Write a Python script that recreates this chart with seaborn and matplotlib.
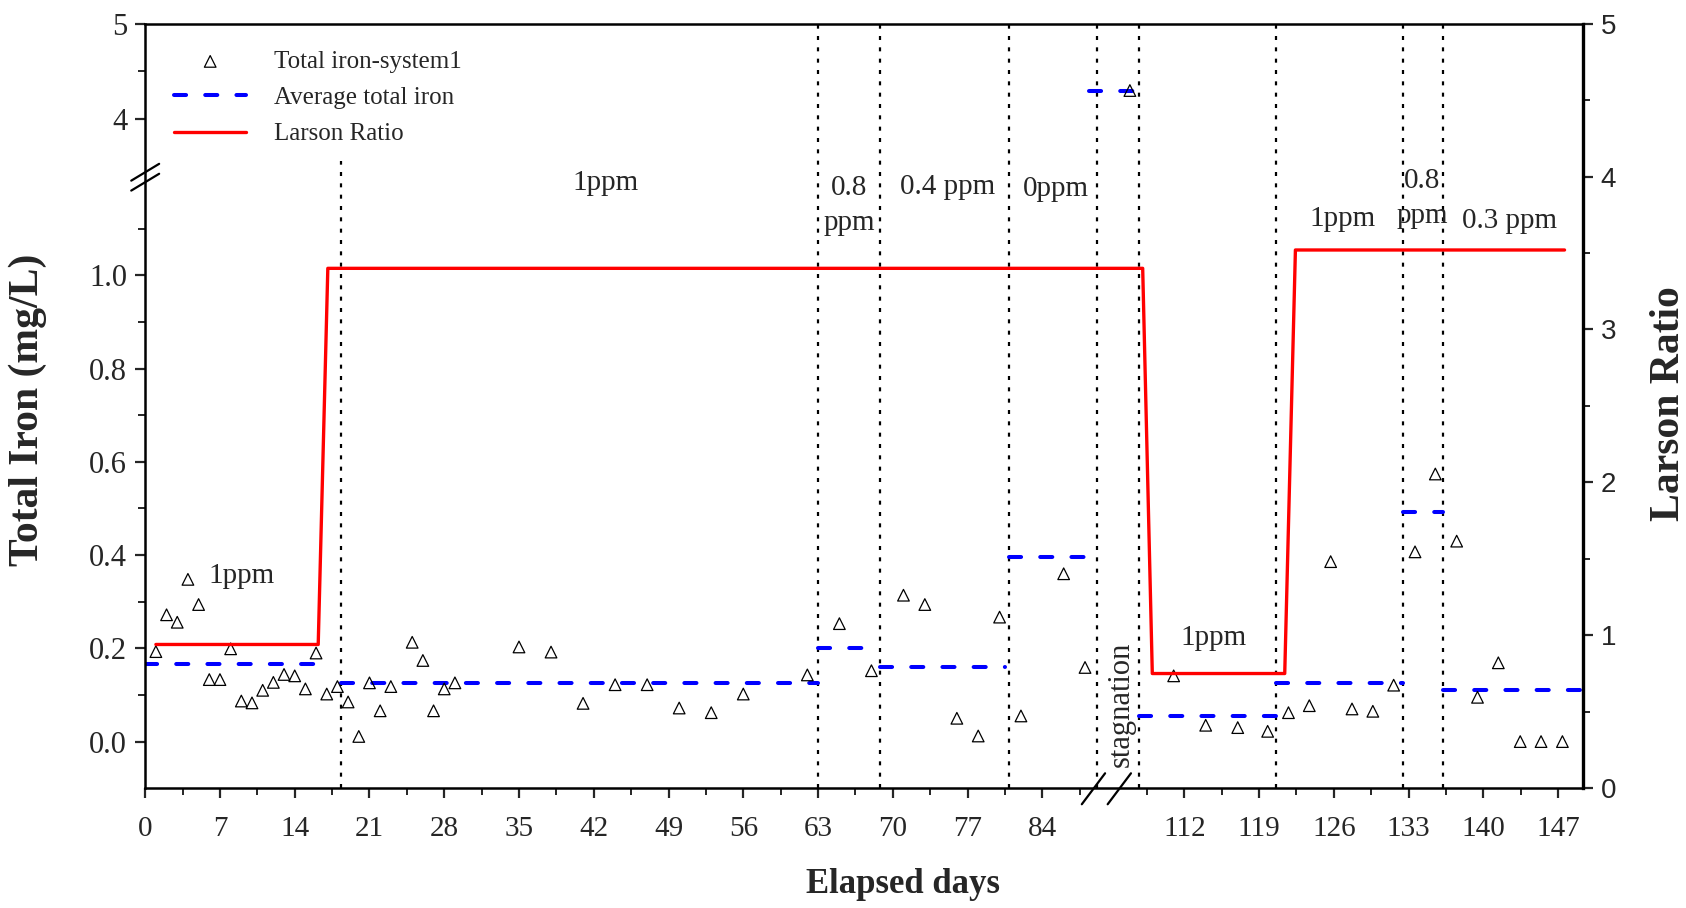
import numpy as np
import pandas as pd
import matplotlib
matplotlib.use("Agg")
import matplotlib.pyplot as plt
from matplotlib.ticker import FixedLocator, FixedFormatter, NullFormatter
import seaborn as sns

# ---------------- data ----------------
iron_days = [1, 2, 3, 4, 5, 6, 7, 8, 9, 10, 11, 12, 13, 14, 15, 16, 17, 18, 19, 20,
             21, 22, 23, 25, 26, 27, 28, 29, 35, 38, 41, 44, 47, 50, 53, 56, 62, 65,
             68, 71, 73, 76, 78, 80, 82, 86, 88, 106.9, 111, 114, 117, 119.8, 121.75,
             123.7, 125.7, 127.7, 129.65, 131.6, 133.6, 135.5, 137.5, 139.45, 141.4,
             143.45, 145.4, 147.4]
iron_values = [0.193, 0.272, 0.256, 0.348, 0.294, 0.133, 0.133, 0.199, 0.087, 0.083,
               0.110, 0.127, 0.144, 0.141, 0.113, 0.190, 0.102, 0.118, 0.085, 0.011,
               0.126, 0.066, 0.118, 0.213, 0.174, 0.066, 0.113, 0.126, 0.203, 0.192,
               0.082, 0.122, 0.122, 0.072, 0.062, 0.102, 0.143, 0.253, 0.152, 0.314,
               0.294, 0.050, 0.012, 0.267, 0.055, 0.360, 0.159, 4.30, 0.141, 0.035,
               0.030, 0.022, 0.062, 0.077, 0.386, 0.070, 0.065, 0.121, 0.407, 0.574,
               0.430, 0.095, 0.169, 0.0, 0.0, 0.0]

avg_start = [0, 18.3, 63, 68.8, 80.9, 88.4, 107.8, 120.6, 132.5, 136.2]
avg_end = [17, 63, 68.8, 80.5, 88.4, 107.8, 120.6, 132.5, 136.2, 149.3]
avg_values = [0.167, 0.126, 0.200, 0.161, 0.395, 4.30, 0.055, 0.126, 0.493, 0.110]

larson_days = [1, 16.2, 17.1, 108.1, 109.0, 121.4, 122.4, 147.6]
larson_values = [0.94, 0.94, 3.40, 3.40, 0.75, 0.75, 3.52, 3.52]

period_bounds = [18.3, 63, 68.8, 80.9, 89.1, 107.8, 120.6, 132.5, 136.2]
period_tops = [4.1, 5, 5, 5, 5, 5, 5, 5, 5]   # in Larson-axis units

dose_labels = ["1ppm", "1ppm", "0.8\nppm", "0.4 ppm", "0ppm", "1ppm", "1ppm",
               "0.8\nppm", "0.3 ppm"]
dose_days = [9.0, 43.1, 65.9, 75.1, 85.3, 114.7, 126.8, 134.3, 142.4]
dose_levels = [1.385, 3.96, 3.81, 3.93, 3.92, 0.985, 3.72, 3.86, 3.71]

x_major = [0, 7, 14, 21, 28, 35, 42, 49, 56, 63, 70, 77, 84, 112, 119, 126, 133, 140, 147]
x_minor = [3.5, 10.5, 17.5, 24.5, 31.5, 38.5, 45.5, 52.5, 59.5, 66.5, 73.5, 80.5, 87.5,
           108.5, 115.5, 122.5, 129.5, 136.5, 143.5]
y_major = [0.0, 0.2, 0.4, 0.6, 0.8, 1.0, 4, 5]
y_major_labels = ["0.0", "0.2", "0.4", "0.6", "0.8", "1.0", "4", "5"]
y_minor = [0.1, 0.3, 0.5, 0.7, 0.9, 1.1, 4.5]
r_major = [0, 1, 2, 3, 4, 5]
r_minor = [0.5, 1.5, 2.5, 3.5, 4.5]

legend_labels = ["Total iron-system1", "Average total iron", "Larson Ratio"]

# axis breaks
X_BREAK = (90.0, 104.7)
Y_BREAK = (1.2, 3.34)
Y_UPPER_RATIO = 0.2048


def make_break(a, b, ratio):
    lo, hi = -1000.0, 1000.0
    xs = [lo, a, b, hi]
    ys = [lo, a, a + 1e-6, a + 1e-6 + (hi - b) * ratio]
    fwd = lambda v: np.interp(np.asarray(v, dtype=float), xs, ys)
    inv = lambda v: np.interp(np.asarray(v, dtype=float), ys, xs)
    return fwd, inv


xf, xi = make_break(X_BREAK[0], X_BREAK[1], 1.0)
yf, yi = make_break(Y_BREAK[0], Y_BREAK[1], Y_UPPER_RATIO)

# ---------------- style ----------------
sns.set_style("ticks")
plt.rcParams["font.family"] = ["Liberation Serif", "DejaVu Serif"]

fig = plt.figure(figsize=(16.86, 9.08), dpi=100)
ax = fig.add_axes([0.08612, 0.13194, 0.85261, 0.84196])
ax.set_xscale("function", functions=(xf, xi))
ax.set_yscale("function", functions=(yf, yi))

# vertical period separators
for xb, top in zip(period_bounds, period_tops):
    ax.axvline(xb, ymin=0, ymax=top / 5.0, color="black", lw=1.6,
               linestyle=(0, (1.8, 3.3)), zorder=1)

# averages
rows = []
for i, (s, e, v) in enumerate(zip(avg_start, avg_end, avg_values)):
    rows.append((i, s, v))
    rows.append((i, e, v))
avg_df = pd.DataFrame(rows, columns=["segment", "day", "value"])
sns.lineplot(data=avg_df, x="day", y="value", units="segment", estimator=None,
             color="#0000ff", lw=2.9, linestyle=(0, (3.0, 4.75)),
             dash_capstyle="round", sort=False, ax=ax, legend=False, zorder=2)

# iron measurements
iron_df = pd.DataFrame({"day": iron_days, "iron": iron_values})
sns.scatterplot(data=iron_df, x="day", y="iron", marker="^", s=70,
                color="black", linewidth=0.9, ax=ax, legend=False, zorder=3)
sc = ax.collections[-1]
sc.set_facecolor("none")
sc.set_edgecolor("black")

ax.set_xlim(0, 149.3)
ax.set_ylim(-0.1, 5)

ax.xaxis.set_major_locator(FixedLocator(x_major))
ax.xaxis.set_major_formatter(FixedFormatter([str(v) for v in x_major]))
ax.xaxis.set_minor_locator(FixedLocator(x_minor))
ax.xaxis.set_minor_formatter(NullFormatter())
ax.yaxis.set_major_locator(FixedLocator(y_major))
ax.yaxis.set_major_formatter(FixedFormatter(y_major_labels))
ax.yaxis.set_minor_locator(FixedLocator(y_minor))
ax.yaxis.set_minor_formatter(NullFormatter())

ax.tick_params(axis="both", which="major", direction="out", length=7, width=1.6,
               labelsize=21, pad=6)
ax.tick_params(axis="both", which="minor", direction="out", length=5, width=1.4)
ax.tick_params(axis="x", which="major", pad=13)
ax.tick_params(axis="y", which="major", labelsize=22)
ax.tick_params(top=False, right=False)
for side in ["left", "bottom", "top"]:
    ax.spines[side].set_linewidth(1.8)
    ax.spines[side].set_color("black")
ax.spines["right"].set_visible(False)

ax.set_xlabel("Elapsed days", fontsize=25, fontweight="bold")
ax.set_ylabel("Total Iron (mg/L)", fontsize=30, fontweight="bold")
ax.xaxis.set_label_coords(0.527, -0.104)
ax.yaxis.set_label_coords(-0.068, 0.495)

# ---------------- Larson ratio axis ----------------
ax2 = ax.twinx()
sns.lineplot(x=larson_days, y=larson_values, color="#ff0000", lw=2.4, ax=ax2,
             sort=False, estimator=None, legend=False)
ax2.set_ylim(0, 5)
ax2.yaxis.set_major_locator(FixedLocator(r_major))
ax2.yaxis.set_minor_locator(FixedLocator(r_minor))
ax2.yaxis.set_minor_formatter(NullFormatter())
ax2.tick_params(axis="y", which="major", direction="out", length=7, width=1.6,
                labelsize=20, pad=6, labelfontfamily="Liberation Sans")
ax2.tick_params(axis="y", which="minor", direction="out", length=5, width=1.4)
ax2.spines["right"].set_linewidth(2.4)
ax2.spines["right"].set_color("black")
for side in ["left", "bottom", "top"]:
    ax2.spines[side].set_visible(False)
ax2.set_ylabel("Larson Ratio", fontsize=30, fontweight="bold")
ax2.yaxis.set_label_coords(1.047, 0.503)

# dose annotations
for lbl, d, lv in zip(dose_labels, dose_days, dose_levels):
    ax2.text(d, lv, lbl, ha="center", va="center", fontsize=21, linespacing=1.45)
ax2.text(106.1, 0.55, "stagnation", rotation=90, ha="center", va="center",
         fontsize=22)

# legend
handles = [sc, ax.lines[-1], ax2.lines[-1]]
ax2.legend(handles, legend_labels, loc="upper left", bbox_to_anchor=(0.02, 0.965),
           frameon=False, fontsize=18, handlelength=2.9, handletextpad=1.1,
           labelspacing=0.55, borderaxespad=0, borderpad=0, scatterpoints=1)

# axis-break marks
x0, x1 = ax.get_xlim()
bx = (xf(X_BREAK[0]) - xf(x0)) / (xf(x1) - xf(x0))
for off in (-0.009, 0.009):
    ax.plot([bx + off - 0.0081, bx + off + 0.0081], [-0.021, 0.0195],
            transform=ax.transAxes, color="black", lw=1.6, clip_on=False, zorder=5)
y0, y1 = ax.get_ylim()
by = (yf(Y_BREAK[0]) - yf(y0)) / (yf(y1) - yf(y0))
for off in (0.0, 0.013):
    ax.plot([-0.0097, 0.0097], [by + off - 0.011, by + off + 0.011],
            transform=ax.transAxes, color="black", lw=1.6, clip_on=False, zorder=5)

fig.savefig("out.png", dpi=100)
